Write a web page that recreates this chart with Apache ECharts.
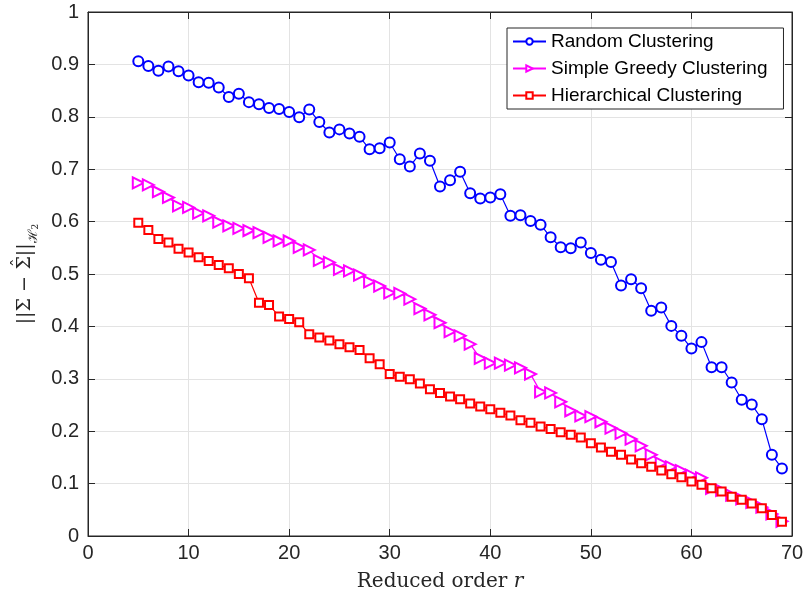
<!DOCTYPE html>
<html><head><meta charset="utf-8">
<script src="https://cdn.jsdelivr.net/npm/echarts@6/dist/echarts.min.js"></script>
<style>html,body{margin:0;padding:0;background:#fff}#c{width:810px;height:602px}</style>
</head><body><div id="c"></div>
<script>
const orders = [];
for (let r = 5; r <= 69; r++) orders.push(r);
const randomClustering = [0.906,0.897,0.888,0.896,0.887,0.879,0.866,0.865,0.856,0.838,0.844,0.828,0.824,0.817,0.815,0.809,0.799,0.814,0.790,0.770,0.776,0.768,0.762,0.738,0.740,0.751,0.719,0.705,0.730,0.716,0.667,0.679,0.695,0.654,0.644,0.646,0.652,0.611,0.612,0.601,0.594,0.570,0.551,0.549,0.560,0.540,0.527,0.523,0.478,0.490,0.473,0.430,0.436,0.401,0.382,0.358,0.370,0.322,0.322,0.293,0.260,0.251,0.223,0.155,0.129];
const greedyClustering = [0.674,0.670,0.657,0.646,0.630,0.627,0.616,0.611,0.599,0.592,0.587,0.583,0.579,0.570,0.563,0.563,0.551,0.546,0.526,0.522,0.509,0.506,0.498,0.485,0.477,0.464,0.463,0.452,0.434,0.422,0.407,0.390,0.382,0.366,0.339,0.330,0.330,0.326,0.321,0.309,0.275,0.273,0.256,0.239,0.229,0.228,0.218,0.206,0.196,0.185,0.172,0.155,0.139,0.132,0.125,0.116,0.111,0.091,0.087,0.078,0.071,0.064,0.055,0.042,0.028];
const hierarchicalClustering = [0.598,0.584,0.567,0.560,0.548,0.541,0.532,0.525,0.517,0.511,0.500,0.492,0.445,0.441,0.419,0.414,0.408,0.385,0.379,0.373,0.366,0.360,0.355,0.339,0.328,0.309,0.304,0.299,0.291,0.280,0.273,0.266,0.261,0.253,0.247,0.242,0.235,0.230,0.221,0.216,0.209,0.204,0.198,0.193,0.188,0.177,0.169,0.161,0.155,0.146,0.139,0.132,0.125,0.118,0.112,0.104,0.098,0.091,0.085,0.075,0.069,0.062,0.053,0.040,0.027];
const xTicks = [0,10,20,30,40,50,60,70];
const yTicks = [0,0.1,0.2,0.3,0.4,0.5,0.6,0.7,0.8,0.9,1];
const seriesNames = ['Random Clustering','Simple Greedy Clustering','Hierarchical Clustering'];
const seriesColors = ['#0000ff','#ff00ff','#ff0000'];

const pair = arr => arr.map((v,i)=>[orders[i], v]);
const axisCol = '#262626';
const gridCol = '#e3e3e3';
const serif = 'DejaVu Serif, Liberation Serif, serif';
const tickFont = {fontFamily:'Liberation Sans, Arial, sans-serif', fontSize:20, color:axisCol};

function mkSeries(i, data, symbol, size, rot){
  const color = seriesColors[i];
  return {name:seriesNames[i], type:'line', data:pair(data), symbol, symbolSize:size, symbolRotate:rot||0,
    color, lineStyle:{color, width:1.2}, itemStyle:{color, borderWidth:1.4},
    emphasis:{disabled:true}, animation:false, z:3};
}
const tickStyle = {show:true, inside:true, length:7, lineStyle:{color:axisCol, width:1}};
const chart = echarts.init(document.getElementById('c'));
chart.setOption({
  animation:false,
  grid:{left:88, right:18, top:12, bottom:66, show:true, borderColor:axisCol, borderWidth:1, backgroundColor:'#fff'},
  xAxis:[{type:'value', min:0, max:70, interval:10,
    axisLine:{onZero:false, lineStyle:{color:axisCol}}, axisTick:tickStyle,
    axisLabel:Object.assign({margin:7, formatter:v=>xTicks.includes(v)?String(v):''}, tickFont),
    splitLine:{show:true, lineStyle:{color:gridCol, width:1}},
    name:'{a|Reduced order }{i|r}', nameLocation:'middle', nameGap:36,
    nameTextStyle:{rich:{a:{fontFamily:serif, fontSize:20, color:axisCol},
      i:{fontFamily:serif, fontStyle:'italic', fontSize:20, color:axisCol}}}},
    {type:'value', position:'top', min:0, max:70, interval:10,
    axisLine:{onZero:false, lineStyle:{color:axisCol}}, axisTick:tickStyle,
    axisLabel:{show:false}, splitLine:{show:false}}],
  yAxis:[{type:'value', min:0, max:1, interval:0.1,
    axisLine:{show:true, onZero:false, lineStyle:{color:axisCol}}, axisTick:tickStyle,
    axisLabel:Object.assign({margin:9, formatter:v=>{const t=yTicks.find(k=>Math.abs(k-v)<1e-9);return t===undefined?'':String(t);}}, tickFont),
    splitLine:{show:true, lineStyle:{color:gridCol, width:1}},
    name:'{a|||\u03A3 \u2212 }{h|\u02C6}{a|\u03A3||}{s|\u210B}{t|2}', nameLocation:'middle', nameGap:44, nameRotate:90,
    nameTextStyle:{rich:{a:{fontFamily:'DejaVu Serif', fontSize:19, color:axisCol, lineHeight:30, verticalAlign:'middle'},
      h:{fontFamily:'DejaVu Serif', fontSize:17, color:axisCol, lineHeight:30, verticalAlign:'top', padding:[0,-11,0,3]},
      s:{fontFamily:serif, fontSize:13, color:axisCol, lineHeight:30, verticalAlign:'bottom'},
      t:{fontFamily:serif, fontSize:9, color:axisCol, lineHeight:30, verticalAlign:'bottom'}}}},
    {type:'value', position:'right', min:0, max:1, interval:0.1,
    axisLine:{show:true, onZero:false, lineStyle:{color:axisCol}}, axisTick:tickStyle,
    axisLabel:{show:false}, splitLine:{show:false}}],
  legend:{left:507, top:28, orient:'vertical', itemGap:8, itemWidth:33, itemHeight:8,
    padding:[4,16,4,5], backgroundColor:'#fff', borderColor:axisCol, borderWidth:1, borderRadius:0,
    textStyle:{fontFamily:'Liberation Sans, Arial, sans-serif', fontSize:19, color:'#000'},
    data:seriesNames},
  series:[
    mkSeries(0, randomClustering, 'emptyCircle', 10),
    mkSeries(1, greedyClustering, 'emptyTriangle', 11, -90),
    mkSeries(2, hierarchicalClustering, 'emptyRect', 8),
    {name:'_box', type:'line', xAxisIndex:1, yAxisIndex:1, data:[], silent:true}
  ]
});
</script></body></html>
